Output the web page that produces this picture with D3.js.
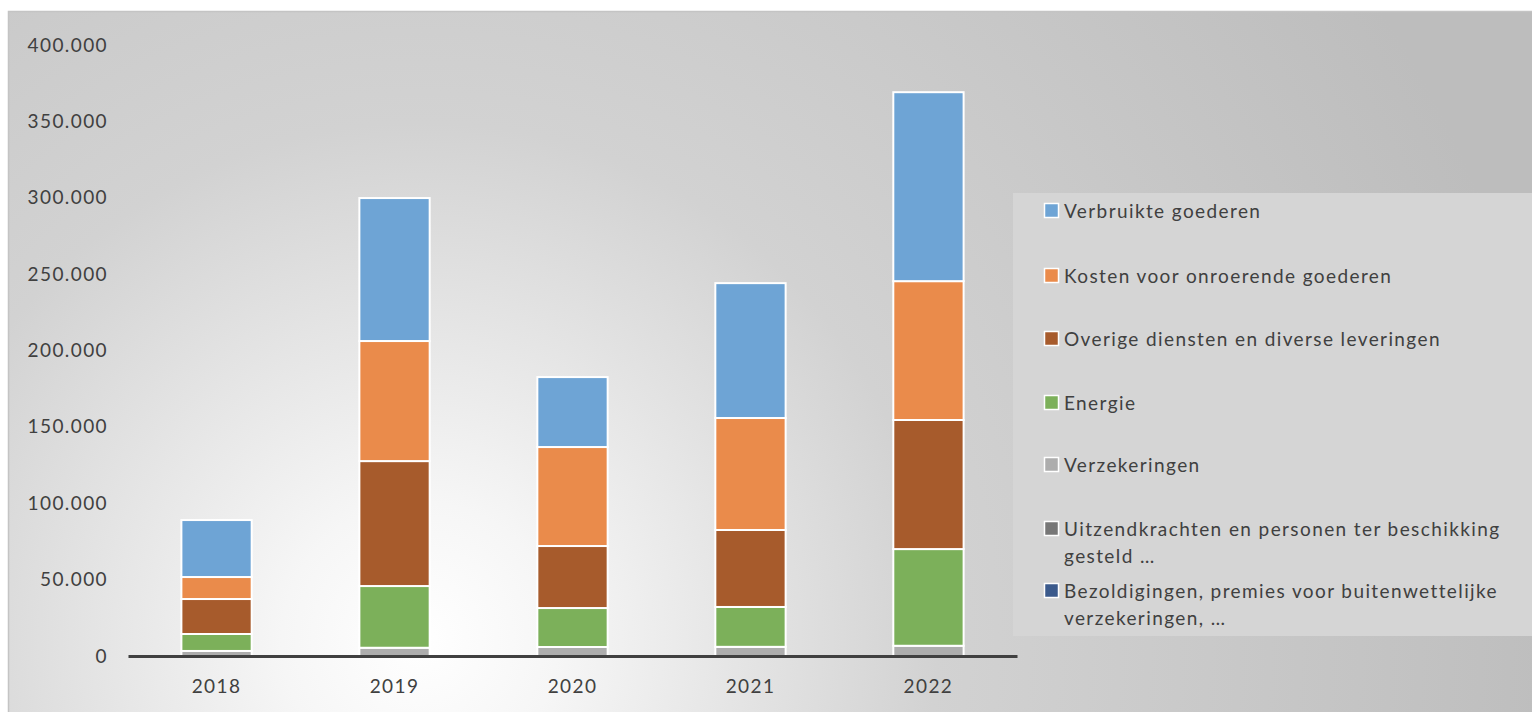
<!DOCTYPE html>
<html><head><meta charset="utf-8">
<script src="https://cdn.jsdelivr.net/npm/d3@7"></script>
<style>
html,body{margin:0;padding:0;background:#fff;}
text{font-family:Lato,"Open Sans",sans-serif;fill:#404040;letter-spacing:1.4px;}
</style></head>
<body>
<svg id="chart" width="1532" height="712"></svg>
<script>
const years = ["2018","2019","2020","2021","2022"];
// stack order: bottom to top
const seriesNames = [
  "Bezoldigingen, premies voor buitenwettelijke verzekeringen, …",
  "Uitzendkrachten en personen ter beschikking gesteld …",
  "Verzekeringen",
  "Energie",
  "Overige diensten en diverse leveringen",
  "Kosten voor onroerende goederen",
  "Verbruikte goederen"
];
const bezoldigingen   = [0, 0, 0, 0, 0];
const uitzendkrachten = [0, 0, 0, 0, 0];
const verzekeringen   = [3300, 5400, 5900, 6000, 6700];
const energie         = [11100, 40400, 25500, 26100, 63300];
const overige         = [22900, 81800, 40600, 50400, 84500];
const kosten          = [14400, 78600, 64800, 73300, 90900];
const verbruikte      = [37300, 93600, 45800, 88300, 123700];
const yTicks = [0, 50000, 100000, 150000, 200000, 250000, 300000, 350000, 400000];
const colors = ["#3b5a8c", "#777777", "#adadad", "#7cb05a", "#a75b2c", "#ea8b4b", "#6ea4d5"];
const legendLines = [
  ["Verbruikte goederen"],
  ["Kosten voor onroerende goederen"],
  ["Overige diensten en diverse leveringen"],
  ["Energie"],
  ["Verzekeringen"],
  ["Uitzendkrachten en personen ter beschikking", "gesteld …"],
  ["Bezoldigingen, premies voor buitenwettelijke", "verzekeringen, …"]
];

const seriesValues = [bezoldigingen, uitzendkrachten, verzekeringen, energie, overige, kosten, verbruikte];
const rows = years.map((y, i) => {
  const r = {year: y};
  seriesNames.forEach((s, k) => r[s] = seriesValues[k][i]);
  return r;
});

const svg = d3.select("#chart");
const defs = svg.append("defs");
const grad = defs.append("radialGradient").attr("id", "bg")
  .attr("gradientUnits", "userSpaceOnUse")
  .attr("cx", 420).attr("cy", 640).attr("r", 1150);
grad.append("stop").attr("offset", 0).attr("stop-color", "#ffffff");
grad.append("stop").attr("offset", 0.12).attr("stop-color", "#f6f6f6");
grad.append("stop").attr("offset", 0.45).attr("stop-color", "#d2d2d2");
grad.append("stop").attr("offset", 1).attr("stop-color", "#bdbdbd");

svg.append("rect").attr("x", 8.5).attr("y", 11.5).attr("width", 1530).attr("height", 710)
  .attr("fill", "url(#bg)").attr("stroke", "#c4c4c4").attr("stroke-width", 1.5);

const x = d3.scaleBand().domain(years).range([128, 1017]).paddingInner(0.605).paddingOuter(0.3);
const y = d3.scaleLinear().domain([0, 400000]).range([656, 45]);

// y axis labels
const yAxis = d3.axisLeft(y).tickValues(yTicks).tickSize(0).tickPadding(0)
  .tickFormat(d => d3.format(",")(d).replace(/,/g, "."));
const gy = svg.append("g").attr("transform", "translate(108,0)").call(yAxis);
gy.select(".domain").remove();
gy.selectAll("text").style("font-family", "Lato, sans-serif").style("font-size", "19px").attr("fill", "#404040");

// legend box
const lg = svg.append("g");
lg.append("rect").attr("x", 1013).attr("y", 193).attr("width", 525).attr("height", 443).attr("fill", "#d5d5d5");

// bars
const stack = d3.stack().keys(seriesNames);
const stacked = stack(rows);
svg.append("g").selectAll("g").data(stacked).join("g")
  .attr("fill", (d, i) => colors[i])
  .selectAll("rect").data(d => d).join("rect")
  .attr("x", d => x(d.data.year))
  .attr("y", d => y(d[1]))
  .attr("width", x.bandwidth())
  .attr("height", d => Math.max(0, y(d[0]) - y(d[1])))
  .attr("stroke", "#ffffff").attr("stroke-width", 2);

// x axis
const xAxis = d3.axisBottom(x).tickSize(0).tickPadding(24);
const gx = svg.append("g").attr("transform", "translate(0,656)").call(xAxis);
gx.select(".domain").attr("stroke", "#404040").attr("stroke-width", 3);
gx.selectAll("text").style("font-family", "Lato, sans-serif").style("font-size", "19px").attr("fill", "#404040");

// legend items (top series first)
const legendY = [211, 276, 339, 403, 465, 529, 591];
const order = seriesNames.slice().reverse();
const colorsRev = colors.slice().reverse();
order.forEach((name, i) => {
  const g = lg.append("g").attr("transform", `translate(1044,${legendY[i]})`);
  g.append("rect").attr("x", 0.5).attr("y", -7.5).attr("width", 14).attr("height", 14)
    .attr("fill", colorsRev[i]).attr("stroke", "#ffffff").attr("stroke-width", 1.5);
  const t = g.append("text").attr("x", 20).attr("y", 0).attr("dy", "0.35em")
    .style("font-size", "19px");
  legendLines[i].forEach((line, j) => {
    t.append("tspan").attr("x", 20).attr("dy", j === 0 ? "0.35em" : "27px").text(line);
  });
});
</script>
</body></html>
